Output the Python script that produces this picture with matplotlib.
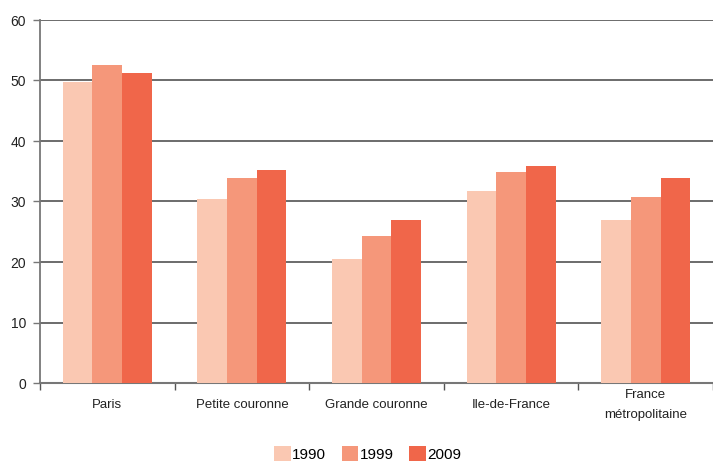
import numpy as np
import matplotlib.pyplot as plt
from matplotlib import font_manager

# data
categories = ['Paris', 'Petite couronne', 'Grande couronne', 'Ile-de-France', 'France\nmétropolitaine']
years = ['1990', '1999', '2009']
v1990 = [49.8, 30.4, 20.5, 31.7, 26.9]
v1999 = [52.6, 33.9, 24.3, 34.9, 30.7]
v2009 = [51.2, 35.2, 26.9, 35.9, 33.9]
colors = ['#FAC8B2', '#F5977A', '#F0664A']

names = {f.name for f in font_manager.fontManager.ttflist}
fam = 'Liberation Sans Narrow' if 'Liberation Sans Narrow' in names else 'Liberation Sans'
plt.rcParams['font.family'] = [fam, 'DejaVu Sans']

fig = plt.figure(figsize=(7.13, 4.61), dpi=100)
ax = fig.add_axes([40 / 713, 78 / 461, 673 / 713, 363 / 461])

x = np.arange(len(categories))
w = 0.22
for i, (vals, yr) in enumerate(zip([v1990, v1999, v2009], years)):
    ax.bar(x + (i - 1) * w, vals, width=w, color=colors[i], label=yr, zorder=3)

ax.set_xlim(-0.5, len(categories) - 0.5)
ax.set_ylim(0, 60)
ax.set_yticks(range(0, 61, 10))
ax.yaxis.grid(True, color='#444444', linewidth=1.1, zorder=0)
ax.set_axisbelow(True)

# category boundaries as x ticks
ax.set_xticks(np.arange(len(categories) + 1) - 0.5)
ax.set_xticklabels([])
ax.set_xticks(x, minor=True)
ax.set_xticklabels(categories, minor=True, fontsize=9.5, color='#222222')
for lab in ax.get_xticklabels(minor=True):
    lab.set_va('center')
    lab.set_linespacing(1.9)
ax.tick_params(axis='x', which='minor', length=0, pad=16)
ax.tick_params(axis='x', which='major', length=5, width=1, color='#555555', direction='out')
ax.tick_params(axis='y', length=5, width=1, color='#777777', labelsize=10, labelcolor='#222222', pad=5)

for s in ['top', 'right']:
    ax.spines[s].set_visible(False)
ax.spines['left'].set_color('#777777')
ax.spines['left'].set_linewidth(1.3)
ax.spines['bottom'].set_color('#777777')
ax.spines['bottom'].set_linewidth(1.5)

ax.legend(loc='upper center', bbox_to_anchor=(0.487, -0.136), ncol=3, frameon=False,
          fontsize=11, handlelength=1.1, handleheight=1.1, handletextpad=0.1,
          columnspacing=1.0)

fig.savefig('out.png', dpi=100)
